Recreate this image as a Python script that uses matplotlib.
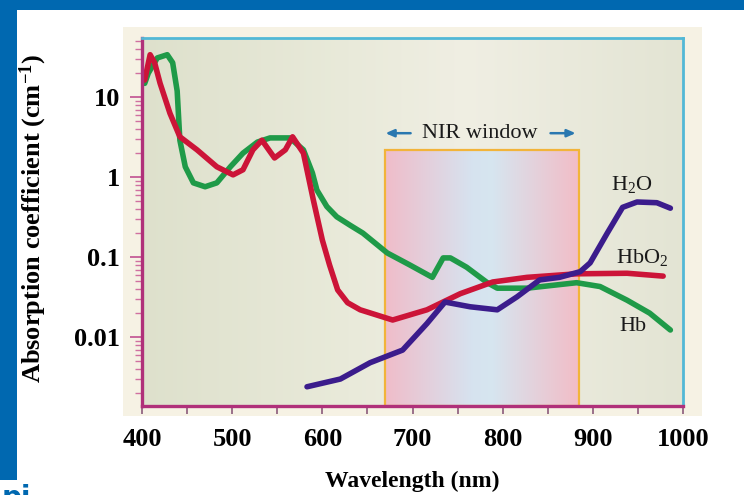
"""
Absorption spectra of Hb, HbO2 and water with the NIR window
"""

import matplotlib
matplotlib.use('Agg')  # headless

import numpy as np
import matplotlib.pyplot as plt
import matplotlib.transforms as mtransforms
from matplotlib.patches import Rectangle
from matplotlib.colors import LinearSegmentedColormap

# Hb (green)
hb_wl = [403, 407, 417, 428, 434, 439, 442, 448, 457, 470, 483, 498, 512, 528,
         542, 564, 579, 589, 594, 605, 616, 631, 645, 672, 697, 722, 734, 742,
         760, 783, 794, 827, 882, 908, 938, 963, 986]
hb_mu = [14.9, 20, 31, 34, 27, 12, 2.9, 1.35, 0.85, 0.76, 0.85, 1.35, 2.0, 2.75,
         3.1, 3.1, 2.2, 1.13, 0.69, 0.43, 0.32, 0.25, 0.20, 0.113, 0.080, 0.056,
         0.098, 0.098, 0.075, 0.048, 0.041, 0.041, 0.048, 0.043, 0.029, 0.020,
         0.0123]

# HbO2 (red)
hbo2_wl = [403, 409, 414, 420, 431, 442, 461, 483, 501, 512, 523, 533, 547, 559,
           567, 579, 590, 600, 608, 617, 628, 642, 678, 716, 753, 789, 827, 882,
           938, 978]
hbo2_mu = [16.4, 34, 27, 15, 6.3, 3.2, 2.2, 1.35, 1.07, 1.24, 2.2, 2.9, 1.74,
           2.2, 3.2, 2.0, 0.52, 0.164, 0.08, 0.039, 0.027, 0.022, 0.0164, 0.022,
           0.035, 0.049, 0.056, 0.062, 0.063, 0.058]

# H2O (purple)
h2o_wl = [583, 620, 653, 689, 716, 736, 764, 794, 816, 841, 863, 886, 897, 916,
          933, 949, 971, 986]
h2o_mu = [0.0024, 0.0030, 0.0048, 0.0069, 0.0148, 0.0275, 0.024, 0.022, 0.032,
          0.052, 0.056, 0.066, 0.085, 0.20, 0.42, 0.49, 0.48, 0.41]

nir_range = (670, 885)
nir_top = 2.2
x_ticks = [400, 500, 600, 700, 800, 900, 1000]
y_ticks = [0.01, 0.1, 1, 10]
y_ticklabels = ['0.01', '0.1', '1', '10']

W, H = 744, 495
BLUE = '#0068b0'
serif = 'Liberation Serif'

plt.rcParams['mathtext.fontset'] = 'custom'
plt.rcParams['mathtext.rm'] = serif
plt.rcParams['mathtext.it'] = serif + ':italic'
plt.rcParams['mathtext.bf'] = serif + ':bold'


def main():
    fig = plt.figure(figsize=(W/100, H/100), dpi=100)

    # blue frame + beige backing (pixel coords -> figure fraction)
    def fig_rect(x0, y0, x1, y1, color):
        fig.patches.append(Rectangle((x0/W, 1 - y1/H), (x1-x0)/W, (y1-y0)/H,
                                     transform=fig.transFigure, color=color,
                                     zorder=-5, lw=0))
    fig_rect(0, 0, W, 10, BLUE)
    fig_rect(0, 0, 17, 480, BLUE)
    fig_rect(123, 27, 702, 416, '#f6f2e4')
    fig.text(2/W, 1 - 484/H, 'pi', color=BLUE, fontsize=20, fontweight='bold',
             va='top', ha='left')

    ax = fig.add_axes([142/W, 1 - 406/H, (683-142)/W, (406-38)/H])
    ax.set_zorder(1)
    ax.set_facecolor('none')
    ymin, ymax = 0.00138, 55
    ax.set_yscale('log')

    # background gradient of the plotting area
    bg_cmap = LinearSegmentedColormap.from_list('bg', [
        (0.0, (0.87, 0.88, 0.80)), (0.35, (0.91, 0.915, 0.85)),
        (0.6, (0.94, 0.935, 0.89)), (1.0, (0.89, 0.895, 0.83))])
    ax.imshow(np.linspace(0, 1, 256)[None, :], cmap=bg_cmap, aspect='auto',
              extent=[0, 1, 0, 1], transform=ax.transAxes, zorder=0)

    # NIR window gradient
    nir_cmap = LinearSegmentedColormap.from_list('nir', [
        (0.0, (0.94, 0.74, 0.79)), (0.45, (0.84, 0.89, 0.94)),
        (0.55, (0.84, 0.90, 0.94)), (1.0, (0.95, 0.74, 0.78))])
    top_frac = (np.log10(nir_top) - np.log10(ymin)) / (np.log10(ymax) - np.log10(ymin))
    blend = mtransforms.blended_transform_factory(ax.transData, ax.transAxes)
    ax.imshow(np.linspace(0, 1, 256)[None, :], cmap=nir_cmap, aspect='auto',
              extent=[nir_range[0], nir_range[1], 0, top_frac], transform=blend,
              zorder=1)
    ax.add_patch(Rectangle((nir_range[0], ymin), nir_range[1] - nir_range[0],
                           nir_top - ymin, fill=False, ec='#f2b43a', lw=1.6,
                           zorder=2))

    kw = dict(lw=4.0, solid_joinstyle='round', solid_capstyle='round', zorder=3)
    ax.plot(hb_wl, hb_mu, color='#1f9a48', **kw)
    ax.plot(hbo2_wl, hbo2_mu, color='#cc1438', **kw)
    ax.plot(h2o_wl, h2o_mu, color='#3b1c8c', **kw)

    txt = dict(fontsize=16, family=serif, color='#1a1a1a', ha='center', va='center')
    ax.text(943, 0.80, 'H$_2$O', **txt)
    ax.text(955, 0.098, 'HbO$_2$', **txt)
    ax.text(945, 0.0138, 'Hb', **txt)
    ax.text(775, 3.55, 'NIR window', **txt)
    arrow = dict(arrowstyle='-|>,head_length=0.5,head_width=0.22',
                 color='#2a78b0', lw=1.8)
    ax.annotate('', xy=(667, 3.55), xytext=(701, 3.55), arrowprops=arrow)
    ax.annotate('', xy=(884, 3.55), xytext=(850, 3.55), arrowprops=arrow)

    ax.set_xlim(400, 1000)
    ax.set_ylim(ymin, ymax)

    # spines
    for s in ('left', 'bottom'):
        ax.spines[s].set_color('#b0307a')
        ax.spines[s].set_linewidth(2.4)
    for s in ('top', 'right'):
        ax.spines[s].set_color('#52b8d6')
        ax.spines[s].set_linewidth(2.0)
    for s in ax.spines.values():
        s.set_zorder(5)

    ax.set_xticks(x_ticks)
    ax.set_xticks(np.arange(450, 1000, 100), minor=True)
    ax.set_yticks(y_ticks)
    ax.set_yticklabels(y_ticklabels)
    ax.tick_params(axis='x', which='both', direction='out', length=6, width=1.2,
                   color='#8a5a7a', pad=10)
    ax.tick_params(axis='y', which='major', direction='out', length=9, width=1.2,
                   color='#c05090', pad=7)
    ax.tick_params(axis='y', which='minor', direction='out', length=5, width=1.0,
                   color='#d070a0')
    for lab in ax.get_xticklabels() + ax.get_yticklabels():
        lab.set_family(serif)
        lab.set_fontweight('bold')
        lab.set_fontsize(19)

    ax.set_xlabel('Wavelength (nm)', family=serif, fontweight='bold',
                  fontsize=17, labelpad=14)
    ax.set_ylabel('Absorption coefficient (cm$^{\\mathbf{-1}}$)', family=serif,
                  fontweight='bold', fontsize=19, va='center')
    ax.yaxis.set_label_coords(-0.2, 0.51)

    fig.savefig('out.png', dpi=100, facecolor='white')


if __name__ == "__main__":
    main()
